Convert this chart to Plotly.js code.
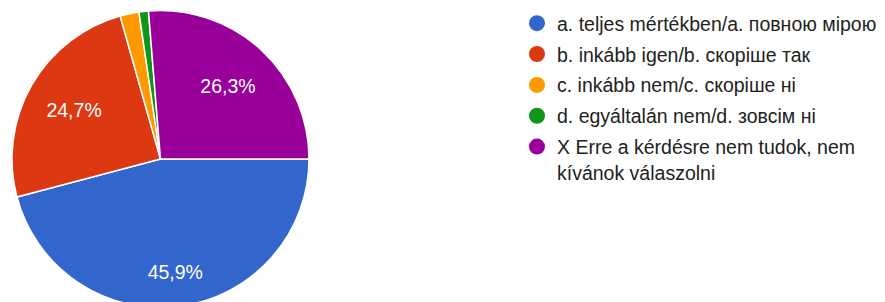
<!DOCTYPE html>
<html><head><meta charset="utf-8">
<script src="https://cdn.plot.ly/plotly-3.0.1.min.js"></script>
<style>html,body{margin:0;padding:0;overflow:hidden;background:#fff}#chart{width:885px;height:318px}</style>
</head><body><div id="chart"></div><script>
const categories = [
  'a. teljes mértékben/a. повною мірою',
  'b. inkább igen/b. скоріше так',
  'c. inkább nem/c. скоріше ні',
  'd. egyáltalán nem/d. зовсім ні',
  'X Erre a kérdésre nem tudok, nem<br>kívánok válaszolni'
];
const counts = [89, 48, 4, 2, 51];
const colors = ['#3366cc', '#dc3912', '#ff9900', '#109618', '#990099'];
// which slices get a percentage label, and in which label layer (outer ring vs. inner ring)
const labelOuter = [true, false, false, false, false];
const labelInner = [false, true, false, false, true];

const W = 885, H = 318;
const FONT = 'Liberation Sans, Arial, sans-serif';
const domain = {x: [12 / W, 309 / W], y: [1 - 307.5 / H, 1 - 10.5 / H]};
const base = {type: 'pie', values: counts, labels: categories, sort: false, direction: 'clockwise', rotation: 90,
  hoverinfo: 'none', showlegend: false, domain: domain};
const slices = Object.assign({}, base, {
  marker: {colors: colors, line: {color: '#ffffff', width: 1.5}}, textinfo: 'none'
});
function textLayer(mask, hole) {
  return Object.assign({}, base, {
    hole: hole,
    marker: {colors: counts.map(() => 'rgba(0,0,0,0)'), line: {width: 0}},
    texttemplate: mask.map(s => s ? '%{percent:.1%}' : ''),
    textposition: 'inside', insidetextorientation: 'horizontal',
    textfont: {color: '#ffffff', size: 19.5, family: FONT}
  });
}
const legendTraces = categories.map((c, i) => ({
  type: 'scatter', mode: 'markers', x: [null], y: [null], name: c, legendgroup: 'g' + i,
  marker: {color: colors[i], size: 19, symbol: 'circle'}, hoverinfo: 'none'
}));
const layout = {
  width: W, height: H, margin: {l: 0, r: 0, t: 0, b: 0},
  paper_bgcolor: '#ffffff', plot_bgcolor: '#ffffff', separators: ', ',
  xaxis: {visible: false}, yaxis: {visible: false},
  showlegend: true,
  legend: {x: 517 / W, xanchor: 'left', y: 1 - 4 / H, yanchor: 'top', tracegroupgap: 2.5, valign: 'top',
    font: {family: FONT, size: 19.5, color: '#222222'}, itemclick: false},
  font: {family: FONT}
};
Plotly.newPlot('chart', [slices, textLayer(labelOuter, 0.54), textLayer(labelInner, 0.34)].concat(legendTraces),
  layout, {staticPlot: true, displayModeBar: false});
</script></body></html>
